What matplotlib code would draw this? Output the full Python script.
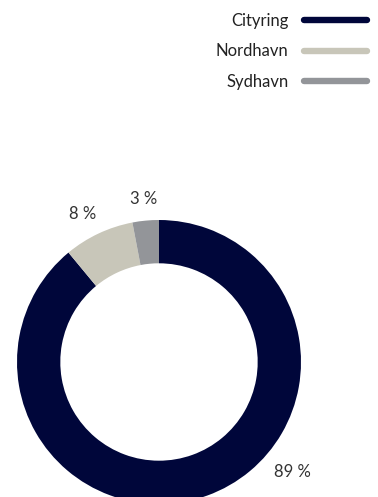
import matplotlib.pyplot as plt
import numpy as np
from matplotlib.lines import Line2D

plt.rcParams['font.family'] = ['Lato', 'DejaVu Sans']

# share of traffic per line
names = ['Cityring', 'Nordhavn', 'Sydhavn']
shares = [89, 8, 3]
colors = ['#00063a', '#c8c6b9', '#939599']

W, H = 378, 497
R_PX = 142
CX, CY = 159, 362  # donut centre in pixels, y measured from top

fig = plt.figure(figsize=(W / 100, H / 100), dpi=100)
ax = fig.add_axes([0, 0, 1, 1])

wedges, _ = ax.pie(
    shares,
    colors=colors,
    startangle=90,
    counterclock=False,
    radius=1.0,
    wedgeprops=dict(width=0.305, linewidth=0),
)

# percentage labels just outside the ring
total = sum(shares)
start = 90.0
for i, (w, v) in enumerate(zip(wedges, shares)):
    mid = np.deg2rad(start - 360 * (sum(shares[:i]) + v / 2) / total)
    dist = 1.15
    if i == 1:
        mid += np.deg2rad(2.0)
        dist = 1.17
    if i == 0:
        # the big slice gets its label lower right, clear of the page edge
        mid = np.deg2rad(-39.6)
        dist = 1.22
    ax.text(dist * np.cos(mid), dist * np.sin(mid), f'{v} %',
            ha='center', va='center', fontsize=12, color='#333333')

ax.set_xlim(-CX / R_PX, (W - CX) / R_PX)
ax.set_ylim(-(H - CY) / R_PX, CY / R_PX)
ax.set_aspect('equal')
ax.axis('off')

handles = [Line2D([0], [0], color=c, lw=4.6, solid_capstyle='round') for c in colors]
fig.legend(handles, names, loc='upper right', bbox_to_anchor=(0.988, 0.988),
           borderaxespad=0, markerfirst=False, frameon=False, fontsize=12,
           handlelength=3.75, handletextpad=0.95, labelspacing=0.89,
           labelcolor='#222222')

fig.savefig('out.png', dpi=100)
